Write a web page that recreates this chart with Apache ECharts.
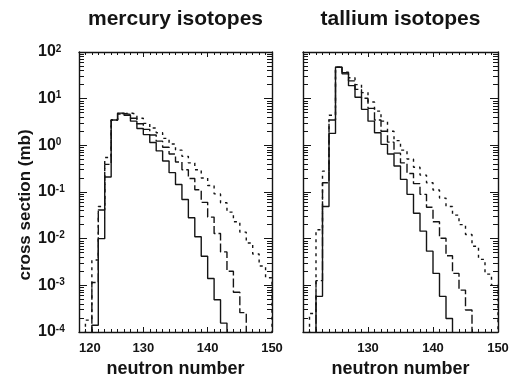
<!DOCTYPE html>
<html>
<head>
<meta charset="utf-8">
<script src="https://cdn.jsdelivr.net/npm/echarts@6.0.0/dist/echarts.min.js"></script>
<style>
  html, body { margin: 0; padding: 0; background: #fff; }
  #chart { width: 509px; height: 377px; }
</style>
</head>
<body>
<div id="chart"></div>
<script>
// histogram bins are one neutron wide, first value belongs to bin [start, start+1]
var hgSolidStart = 122;
var hgSolid = [1.4e-4, 1.0e-2, 0.21, 3.5, 4.9, 4.4, 3.3, 2.3, 1.7, 1.15, 0.76, 0.46, 0.26,
  0.145, 0.069, 0.028, 0.011, 4.2e-3, 1.4e-3, 4.9e-4, 1.55e-4];
var hgLongStart = 122;
var hgLong = [1.15e-3, 0.041, 0.39, 3.5, 4.8, 4.6, 3.8, 2.9, 2.2, 1.66, 1.23, 0.91, 0.65, 0.44,
  0.30, 0.195, 0.112, 0.060, 0.029, 0.0129, 5.2e-3, 2.0e-3, 7.1e-4, 2.6e-4];
var hgShortStart = 121;
var hgShort = [1.8e-4, 3.5e-3, 0.049, 0.55, 3.5, 4.7, 5.0, 4.6, 3.8, 2.95, 2.35, 1.86, 1.41, 1.07,
  0.79, 0.58, 0.42, 0.30, 0.20, 0.138, 0.091, 0.059, 0.037, 0.023, 0.0138, 8.1e-3, 4.7e-3, 2.6e-3, 1.45e-3];

var tlSolidStart = 122;
var tlSolid = [5.8e-4, 0.049, 1.8, 47, 34, 19, 10.7, 5.9, 3.3, 1.86, 1.05, 0.65, 0.36, 0.186,
  0.089, 0.035, 0.0145, 5.4e-3, 1.8e-3, 5.8e-4, 1.95e-4];
var tlLongStart = 122;
var tlLong = [1.26e-3, 0.158, 3.5, 47, 36, 24, 15.8, 10.2, 6.2, 3.5, 2.0, 1.17, 0.68, 0.42, 0.25,
  0.151, 0.089, 0.047, 0.023, 0.0102, 4.3e-3, 1.8e-3, 7.9e-4, 2.95e-4];
var tlShortStart = 121;
var tlShort = [2.5e-4, 0.0155, 0.28, 4.4, 47, 37, 28, 20, 13.5, 8.5, 5.4, 3.3, 2.0, 1.26, 0.79,
  0.51, 0.34, 0.23, 0.158, 0.110, 0.074, 0.049, 0.032, 0.020, 0.0123, 6.9e-3, 3.6e-3, 1.74e-3, 1.0e-3];

var panelTitles = ['mercury isotopes', 'tallium isotopes'];
var xName = 'neutron number';
var yName = 'cross section (mb)';

var FONT = '"Liberation Sans", Arial, Helvetica, sans-serif';
var INK = '#141414';
var FLOOR = 1e-6; // below the axis, so the histogram drops out of the frame

// minor log ticks (2..9 in every decade), in log10 units
var minorLog = [];
for (var d = -4; d < 2; d++) {
  for (var k = 2; k <= 9; k++) minorLog.push(d + Math.log(k) / Math.LN10);
}

function steps(start, vals) {
  var pts = [[start - 1, FLOOR]];
  vals.forEach(function (v, i) { pts.push([start + i, v]); });
  pts.push([start + vals.length, FLOOR]);
  return pts;
}

function xAx(grid, pos, labels, showMin) {
  return {
    type: 'value', gridIndex: grid, position: pos,
    min: 120, max: 150, interval: 10,
    axisLine: { show: true, onZero: false, lineStyle: { color: INK, width: 1.4 } },
    axisTick: { show: true, inside: true, length: 5, lineStyle: { color: INK, width: 1 } },
    minorTick: { show: true, splitNumber: 10, length: 3, lineStyle: { color: INK, width: 1 } },
    splitLine: { show: false },
    axisLabel: labels ? {
      show: true, margin: 10, color: INK, fontFamily: FONT, fontSize: 13, fontWeight: 'bold',
      showMinLabel: showMin, alignMinLabel: 'left'
    } : { show: false },
    name: labels ? xName : '',
    nameLocation: 'middle', nameGap: 26,
    nameTextStyle: { color: INK, fontFamily: FONT, fontSize: 18, fontWeight: 'bold' }
  };
}

function yLog(grid, pos, labels) {
  return {
    type: 'log', logBase: 10, gridIndex: grid, position: pos,
    min: 1e-4, max: 100, splitNumber: 6,
    axisLine: { show: true, onZero: false, lineStyle: { color: INK, width: 1.4 } },
    axisTick: { show: true, inside: true, length: 8, lineStyle: { color: INK, width: 1 } },
    splitLine: { show: false },
    axisLabel: labels ? {
      show: true, align: 'left', margin: 41,
      formatter: function (v) {
        var e = Math.round(Math.log(v) / Math.LN10);
        return '{b|10}{e|' + e + '}';
      },
      rich: {
        b: { fontFamily: FONT, fontSize: 16, fontWeight: 'bold', color: INK },
        e: { fontFamily: FONT, fontSize: 10, fontWeight: 'bold', color: INK, verticalAlign: 'top' }
      }
    } : { show: false },
    name: labels ? yName : '',
    nameLocation: 'middle', nameRotate: 90, nameGap: 45,
    nameTextStyle: { color: INK, fontFamily: FONT, fontSize: 17, fontWeight: 'bold', padding: [0, 26, 0, 0] }
  };
}

function yMinor(grid, pos) {
  return {
    type: 'value', gridIndex: grid, position: pos, min: -4, max: 2,
    axisLine: { show: false, onZero: false },
    axisTick: { show: true, inside: true, length: 5, customValues: minorLog, lineStyle: { color: INK, width: 1 } },
    axisLabel: { show: false },
    splitLine: { show: false }
  };
}

function ser(name, grid, start, vals, dash) {
  return {
    name: name, type: 'line', xAxisIndex: grid * 2, yAxisIndex: grid * 4,
    data: steps(start, vals), step: 'end', symbol: 'none', silent: true, clip: true,
    lineStyle: { color: INK, width: 1.4, type: dash }
  };
}

var chart = echarts.init(document.getElementById('chart'), null, { renderer: 'canvas' });
chart.setOption({
  animation: false,
  backgroundColor: '#fff',
  title: [
    { text: panelTitles[0], left: 175.5, top: 9, textAlign: 'center', padding: 0,
      textStyle: { color: INK, fontFamily: FONT, fontSize: 21, fontWeight: 'bold' } },
    { text: panelTitles[1], left: 400.5, top: 9, textAlign: 'center', padding: 0,
      textStyle: { color: INK, fontFamily: FONT, fontSize: 21, fontWeight: 'bold' } }
  ],
  grid: [
    { left: 79, top: 52, width: 193, height: 280, containLabel: false, outerBoundsMode: 'none' },
    { left: 303, top: 52, width: 195, height: 280, containLabel: false, outerBoundsMode: 'none' }
  ],
  xAxis: [xAx(0, 'bottom', true, true), xAx(0, 'top', false), xAx(1, 'bottom', true, false), xAx(1, 'top', false)],
  yAxis: [
    yLog(0, 'left', true), yLog(0, 'right', false), yMinor(0, 'left'), yMinor(0, 'right'),
    yLog(1, 'left', false), yLog(1, 'right', false), yMinor(1, 'left'), yMinor(1, 'right')
  ],
  series: [
    ser('Hg a', 0, hgSolidStart, hgSolid, 'solid'),
    ser('Hg b', 0, hgLongStart, hgLong, [9, 3]),
    ser('Hg c', 0, hgShortStart, hgShort, [3, 4]),
    ser('Tl a', 1, tlSolidStart, tlSolid, 'solid'),
    ser('Tl b', 1, tlLongStart, tlLong, [9, 3]),
    ser('Tl c', 1, tlShortStart, tlShort, [3, 4])
  ]
});
</script>
</body>
</html>
